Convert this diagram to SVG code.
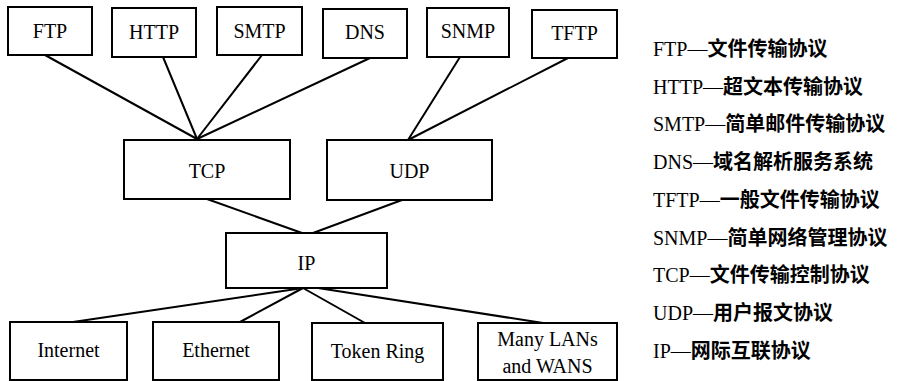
<svg xmlns="http://www.w3.org/2000/svg" width="898" height="381" viewBox="0 0 898 381">
  <style>
    .box { fill: #fff; stroke: #000; stroke-width: 2; }
    .wire { stroke: #000; stroke-width: 2; fill: none; stroke-linecap: round; }
    text { font-family: "Liberation Serif", "DejaVu Serif", serif; font-size: 20px; fill: #000; }
    .lbl { text-anchor: middle; }
    .cjk { font-family: "Noto Sans CJK SC", sans-serif; font-weight: bold; font-size: 20px; }
  </style>
  <rect width="898" height="381" fill="#fff"/>

  <!-- connectors -->
  <g id="connectors">
    <line class="wire" x1="45" y1="55" x2="197" y2="139"/>
    <line class="wire" x1="163" y1="57" x2="197" y2="139"/>
    <line class="wire" x1="262" y1="55" x2="197" y2="139"/>
    <line class="wire" x1="370" y1="58" x2="197" y2="139"/>
    <line class="wire" x1="460" y1="57" x2="408" y2="140"/>
    <line class="wire" x1="568" y1="58" x2="408" y2="140"/>
    <line class="wire" x1="207" y1="199" x2="302" y2="233"/>
    <line class="wire" x1="402" y1="200" x2="313" y2="233"/>
    <line class="wire" x1="303" y1="288" x2="73" y2="322"/>
    <line class="wire" x1="303" y1="288" x2="240" y2="322"/>
    <line class="wire" x1="303" y1="288" x2="365" y2="323"/>
    <line class="wire" x1="318" y1="288" x2="543" y2="323"/>
  </g>

  <!-- application layer -->
  <g id="ftp"><rect class="box" x="8" y="7" width="84" height="48"/><text class="lbl" x="50" y="38">FTP</text></g>
  <g id="http"><rect class="box" x="112" y="8" width="84" height="49"/><text class="lbl" x="154" y="39">HTTP</text></g>
  <g id="smtp"><rect class="box" x="217" y="7" width="85" height="48"/><text class="lbl" x="259.5" y="38">SMTP</text></g>
  <g id="dns"><rect class="box" x="323" y="9" width="84" height="49"/><text class="lbl" x="365" y="39">DNS</text></g>
  <g id="snmp"><rect class="box" x="427" y="8" width="82" height="49"/><text class="lbl" x="468" y="38">SNMP</text></g>
  <g id="tftp"><rect class="box" x="532" y="10" width="85" height="48"/><text class="lbl" x="574.5" y="40">TFTP</text></g>

  <!-- transport layer -->
  <g id="tcp"><rect class="box" x="124" y="140" width="166" height="59"/><text class="lbl" x="207" y="178">TCP</text></g>
  <g id="udp"><rect class="box" x="327" y="140" width="165" height="60"/><text class="lbl" x="409.5" y="178">UDP</text></g>

  <!-- network layer -->
  <g id="ip"><rect class="box" x="226" y="233" width="161" height="55"/><text class="lbl" x="306.5" y="270">IP</text></g>

  <!-- link layer -->
  <g id="internet"><rect class="box" x="10" y="322" width="117" height="58"/><text class="lbl" x="68.5" y="357">Internet</text></g>
  <g id="ethernet"><rect class="box" x="153" y="322" width="126" height="58"/><text class="lbl" x="216" y="357">Ethernet</text></g>
  <g id="token-ring"><rect class="box" x="312" y="323" width="131" height="57"/><text class="lbl" x="377.5" y="358">Token Ring</text></g>
  <g id="many-lans"><rect class="box" x="478" y="323" width="139" height="57"/>
    <text class="lbl" x="547.5" y="346">Many LANs</text>
    <text class="lbl" x="547.5" y="373">and WANS</text>
  </g>

  <!-- legend -->
  <g id="legend">
    <text x="653" y="56">FTP—<tspan class="cjk">文件传输协议</tspan></text>
    <text x="653" y="94">HTTP—<tspan class="cjk">超文本传输协议</tspan></text>
    <text x="653" y="131">SMTP—<tspan class="cjk">简单邮件传输协议</tspan></text>
    <text x="653" y="169">DNS—<tspan class="cjk">域名解析服务系统</tspan></text>
    <text x="653" y="207">TFTP—<tspan class="cjk">一般文件传输协议</tspan></text>
    <text x="653" y="245">SNMP—<tspan class="cjk">简单网络管理协议</tspan></text>
    <text x="653" y="282">TCP—<tspan class="cjk">文件传输控制协议</tspan></text>
    <text x="653" y="320">UDP—<tspan class="cjk">用户报文协议</tspan></text>
    <text x="653" y="358">IP—<tspan class="cjk">网际互联协议</tspan></text>
  </g>
</svg>
